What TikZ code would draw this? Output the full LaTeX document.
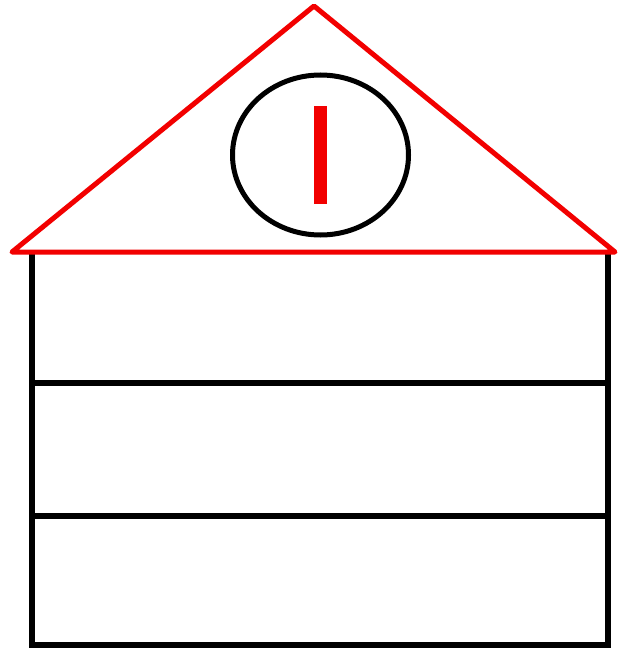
\documentclass[tikz,border=0pt]{standalone}
\begin{document}
\begin{tikzpicture}[x=1pt,y=-1pt,
  blackline/.style={draw=black,line width=5.5pt},
  redline/.style={draw=red!95!black,line width=5pt,line join=round,line cap=round}]
\useasboundingbox (0,0) rectangle (624,650);
\fill[white] (0,0) rectangle (624,650);
% body
\draw[blackline] (32,252) -- (32,645) -- (608,645) -- (608,252);
\draw[blackline] (32,383) -- (608,383);
\draw[blackline] (32,516) -- (608,516);
% roof
\draw[redline] (12,252) -- (314,6) -- (615,252) -- cycle;
% window
\draw[draw=black,line width=5pt] (320.5,155) ellipse [x radius=88, y radius=80];
\fill[red!95!black] (314,106) rectangle (327,204);
\end{tikzpicture}
\end{document}
